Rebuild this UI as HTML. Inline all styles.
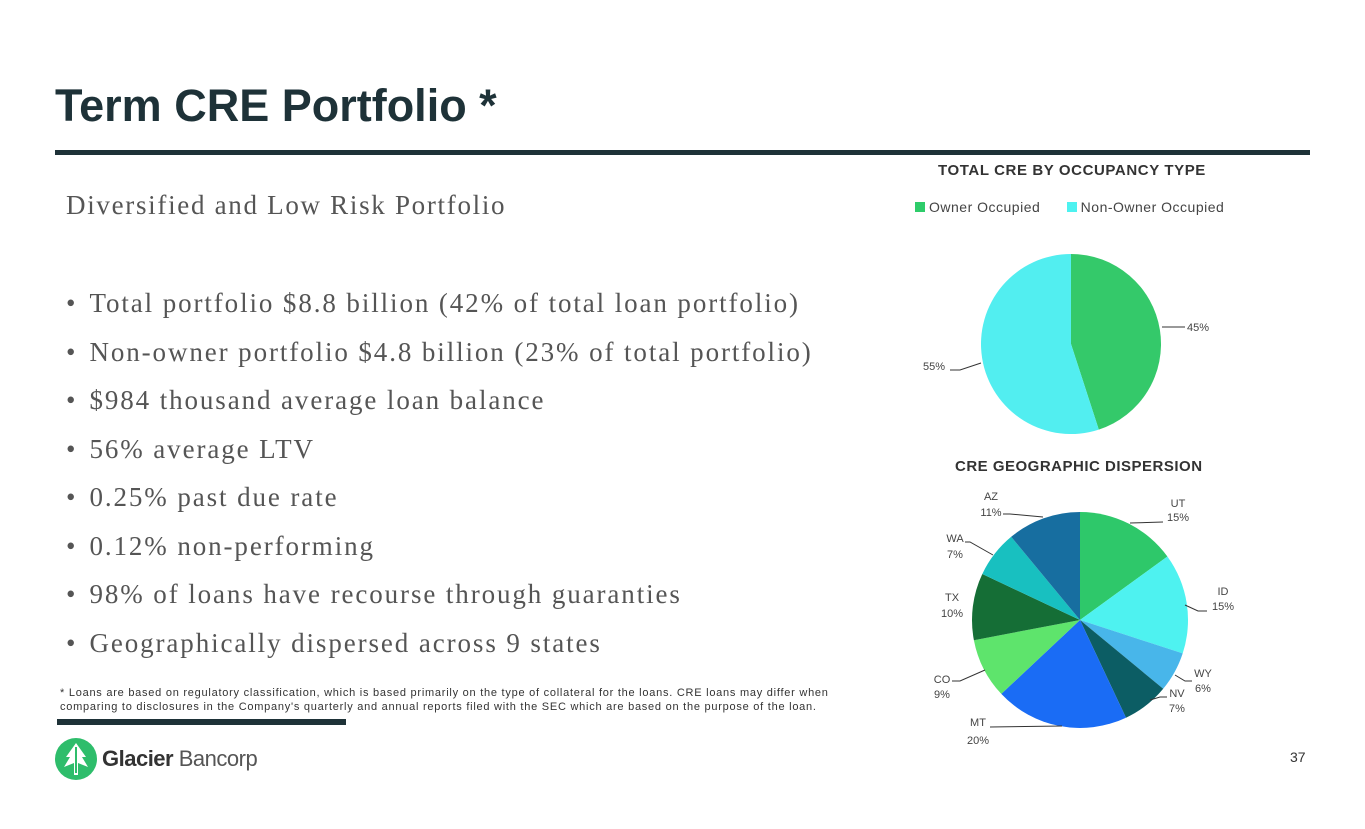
<!DOCTYPE html>
<html><head><meta charset="utf-8"><style>
body{margin:0;width:1365px;height:829px;background:#fff;position:relative;overflow:hidden;font-family:"Liberation Sans",sans-serif}
.a{position:absolute;white-space:nowrap}
h1{position:absolute;left:55px;top:80px;margin:0;font-size:45px;font-weight:bold;color:#1e3238;letter-spacing:0}
.serif{font-family:"Liberation Serif",serif;color:#555;font-size:27px;letter-spacing:1.7px}
ul{position:absolute;left:66px;top:283px;margin:0;padding:0;list-style:none}
li{font-family:"Liberation Serif",serif;color:#555;font-size:27px;height:48.5px;line-height:40px;letter-spacing:1.9px}
li:before{content:"•";margin-right:14px;letter-spacing:0}
</style></head><body>
<h1>Term CRE Portfolio *</h1>
<div class="a" style="left:55px;top:150px;width:1255px;height:5px;background:#1e3238"></div>
<div class="a serif" style="left:66px;top:190px">Diversified and Low Risk Portfolio</div>
<ul>
<li>Total portfolio $8.8 billion (42% of total loan portfolio)</li>
<li>Non-owner portfolio $4.8 billion (23% of total portfolio)</li>
<li>$984 thousand average loan balance</li>
<li>56% average LTV</li>
<li>0.25% past due rate</li>
<li>0.12% non-performing</li>
<li>98% of loans have recourse through guaranties</li>
<li>Geographically dispersed across 9 states</li>
</ul>
<div class="a" style="left:60px;top:686px;font-size:11px;color:#333;line-height:14px;letter-spacing:0.75px">* Loans are based on regulatory classification, which is based primarily on the type of collateral for the loans. CRE loans may differ when<br>comparing to disclosures in the Company's quarterly and annual reports filed with the SEC which are based on the purpose of the loan.</div>
<div class="a" style="left:57px;top:719px;width:289px;height:6px;background:#1e3238"></div>
<svg class="a" style="left:54px;top:737px" width="44" height="44" viewBox="0 0 44 44"><circle cx="22" cy="22" r="21" fill="#2ebd6b"/><path d="M22 6 L12 20 L16 20 L10 30 L20 26 L20 38 L24 38 L24 26 L34 30 L28 20 L32 20 Z" fill="#fff"/><path d="M22 10 L22 36" stroke="#2ebd6b" stroke-width="2"/></svg>
<div class="a" style="left:102px;top:746px;font-size:22px;color:#333;letter-spacing:-0.5px"><b>Glacier</b> <span style="font-weight:normal;color:#555">Bancorp</span></div>
<div class="a" style="left:1290px;top:749px;font-size:14px;color:#333">37</div>
<div class="a" style="left:938px;top:162px;font-size:15px;font-weight:bold;color:#333;letter-spacing:0.6px">TOTAL CRE BY OCCUPANCY TYPE</div>
<div class="a" style="left:915px;top:199px;font-size:14px;color:#444;letter-spacing:0.5px"><span style="display:inline-block;width:10px;height:10px;background:#2ecc6a;margin-right:4px"></span>Owner Occupied <span style="display:inline-block;width:10px;height:10px;background:#4df2f0;margin:0 4px 0 22px"></span>Non-Owner Occupied</div>
<div class="a" style="left:955px;top:458px;font-size:15px;font-weight:bold;color:#333;letter-spacing:0.5px">CRE GEOGRAPHIC DISPERSION</div>
<svg class="a" style="left:0;top:0" width="1365" height="829">
<path d="M1071 344 L1071 254 A90 90 0 0 1 1098.8 429.6 Z" fill="#34c96a"/>
<path d="M1071 344 L1098.8 429.6 A90 90 0 1 1 1071 254 Z" fill="#52eef0"/>
<path d="M1162 327 L1185 327" stroke="#333" fill="none"/>
<path d="M981 363 L960 370 L950 370" stroke="#333" fill="none"/>
<g>
<path d="M1080 620 L1080 512 A108 108 0 0 1 1167.4 556.5Z" fill="#2ec86a"/>
<path d="M1080 620 L1167.4 556.5 A108 108 0 0 1 1182.7 653.4Z" fill="#4ef2f0"/>
<path d="M1080 620 L1182.7 653.4 A108 108 0 0 1 1163.2 688.8Z" fill="#48b6ea"/>
<path d="M1080 620 L1163.2 688.8 A108 108 0 0 1 1126 717.7Z" fill="#0c5d64"/>
<path d="M1080 620 L1126 717.7 A108 108 0 0 1 1001.3 693.9Z" fill="#1a6cf5"/>
<path d="M1080 620 L1001.3 693.9 A108 108 0 0 1 973.9 640.2Z" fill="#5ee46c"/>
<path d="M1080 620 L973.9 640.2 A108 108 0 0 1 982.3 574Z" fill="#156e36"/>
<path d="M1080 620 L982.3 574 A108 108 0 0 1 1011.2 536.8Z" fill="#18c0c0"/>
<path d="M1080 620 L1011.2 536.8 A108 108 0 0 1 1080 512Z" fill="#176ea0"/>
</g>
<g stroke="#333" fill="none">
<path d="M1130 523 L1163 522"/><path d="M1185 605 L1198 611 L1207 611"/>
<path d="M1175 675 L1185 681 L1192 681"/><path d="M1150 700 L1160 697 L1167 697"/>
<path d="M1062 726 L990 727"/><path d="M985 670 L960 681 L952 681"/>
<path d="M993 555 L970 542 L965 542"/><path d="M1043 517 L1010 514 L1003 514"/>
</g>
<g font-size="11" fill="#444" font-family="Liberation Sans,sans-serif" text-anchor="middle">
<text x="1198" y="331">45%</text><text x="934" y="370">55%</text>
<text x="1178" y="507">UT</text><text x="1178" y="521">15%</text>
<text x="1223" y="595">ID</text><text x="1223" y="610">15%</text>
<text x="1203" y="677">WY</text><text x="1203" y="692">6%</text>
<text x="1177" y="697">NV</text><text x="1177" y="712">7%</text>
<text x="978" y="726">MT</text><text x="978" y="744">20%</text>
<text x="942" y="683">CO</text><text x="942" y="698">9%</text>
<text x="952" y="601">TX</text><text x="952" y="617">10%</text>
<text x="955" y="542">WA</text><text x="955" y="558">7%</text>
<text x="991" y="500">AZ</text><text x="991" y="516">11%</text>
</g>
</svg>
</body></html>
